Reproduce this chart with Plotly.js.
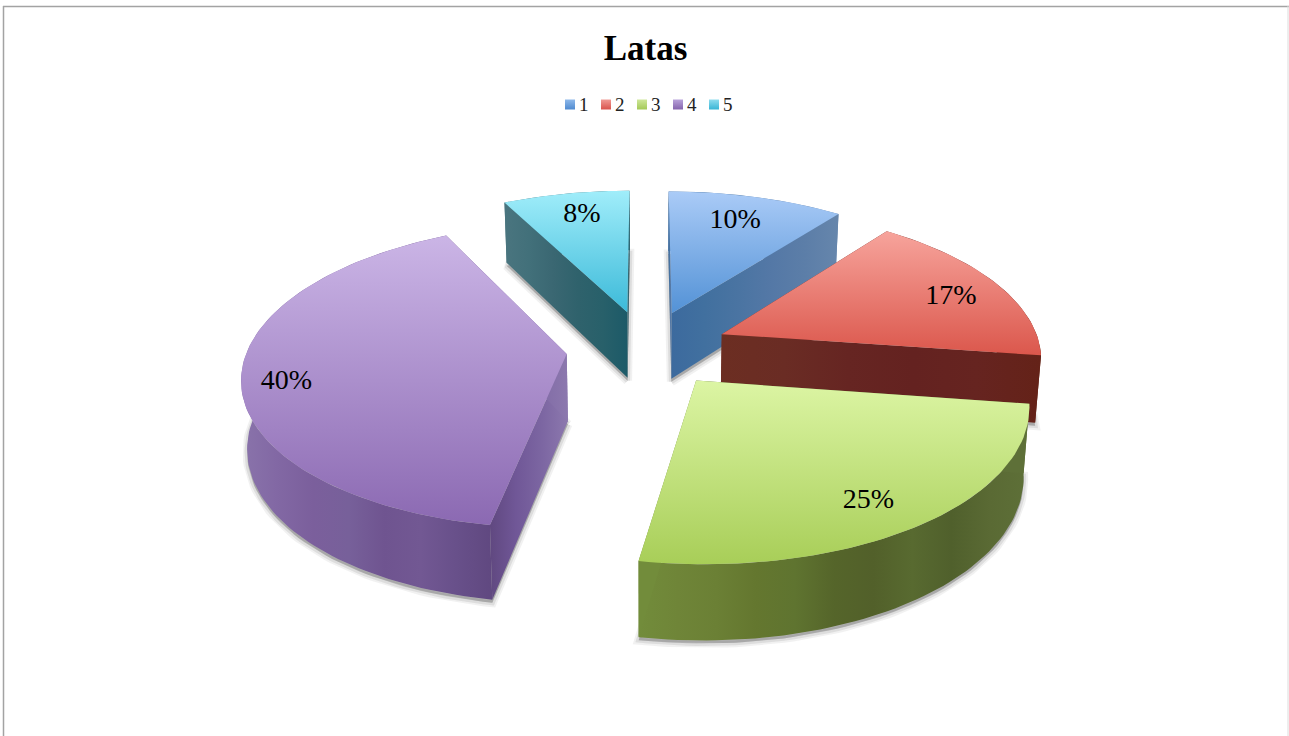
<!DOCTYPE html>
<html><head><meta charset="utf-8">
<script src="https://cdn.plot.ly/plotly-3.0.1.min.js"></script>
<style>html,body{margin:0;padding:0;background:#fff;overflow:hidden}#c{width:1289px;height:736px}</style>
</head><body><div id="c"></div>
<script>
const chartTitle = "Latas";
const categories = ["1","2","3","4","5"];
const shares = [10.4,16.9,25.45,39.75,7.5];
const percentLabels = shares.map(v => Math.round(v) + "%");

// styling
const topStart = ["#aacbf7","#f7a49c","#dcf5a4","#cbb5e6","#a0edfa"];
const topEnd   = ["#5392d6","#db574c","#a8ce58","#8b69b2","#3cbad9"];
const swatchHi = ["#8fb9ea","#f09a94","#cfe79a","#b9a3da","#8fdcee"];
const swatchLo = ["#4f8ad0","#d9534c","#a3c957","#8563ad","#39b5d5"];
const rimColors = [
  ["#3c6a9e","#44709f","#5b7ea8","#6686ac"],
  ["#6c2e22","#662222","#642220","#64220f"],
  ["#728c3b","#6f8538","#6b8035","#64772f","#5f7430","#55652a","#52602a","#586a30","#50602c","#5a6a34","#5e7038"],
  ["#8a74ab","#8268a4","#7b5f9c","#77609a","#6f5490","#725893","#68508a","#604880"],
  ["#4a757f","#3a6772","#2f626c","#1c5a68"]
];
const cutStartEdge = [
  ["#3c6a9e","#41709f","#4a74a2","#5478a6","#5c7ea8","#6686ac"],
  ["#6c2e22","#6a2c24","#662522","#642220","#662420","#642218"],
  ["#5e7038","#5e7038"],
  ["#604880","#705797","#7c66a2","#8c78ae"],
  ["#4a757f","#42707a","#3a6772","#2f626c","#28606a","#1c5a68"]
];
const cutEndEdge = [
  ["#3c6a9e","#41709f","#4a74a2","#5478a6","#5c7ea8","#6686ac"],
  ["#6c2e22","#6a2c24","#662522","#642220","#662420","#642218"],
  ["#728c3b","#728c3b"],
  ["#604880","#705797","#7c66a2","#8c78ae"],
  ["#4a757f","#42707a","#3a6772","#2f626c","#28606a","#1c5a68"]
];
const drawOrder = [4,0,1,3,2];
const labelRadius = [0.774,0.808,0.826,0.865,0.795];
const labelTurn = [-1.1,3,2.3,-3.6,1.2];
const explode = [0.26,0.26,0.26,0.25,0.26];

// projection of the tilted pie
const cx=646, cy=348.5, R=319, B=148, K=0.14, D=67, KD=0.10, shrink=0.985;
function proj(u,v,low){
  const w=1+K*v;
  return [cx+R*u/w*(low?shrink:1), cy-B*v/w+(low?D/(1+KD*v):0)];
}
const total = shares.reduce((a,b)=>a+b,0);
const rad = d => d*Math.PI/180;
let acc=0;
const slices = shares.map((s,i)=>{
  const a0=acc/total*360; acc+=s; const a1=acc/total*360;
  const mid=(a0+a1)/2;
  return {a0,a1,mid,ex:explode[i]*Math.sin(rad(mid)),ey:explode[i]*Math.cos(rad(mid))};
});
function rimPts(sl,low,rev){
  const n=Math.ceil((sl.a1-sl.a0)/1.5), pts=[];
  for(let i=0;i<=n;i++){
    const a=rad(sl.a0+(sl.a1-sl.a0)*i/n);
    pts.push(proj(Math.sin(a)+sl.ex,Math.cos(a)+sl.ey,low));
  }
  return rev?pts.reverse():pts;
}
function apex(sl,low){ return proj(sl.ex,sl.ey,low); }
function scale(cols){ return cols.map((c,i)=>[i/(cols.length-1),c]); }
function poly(pts,extra){
  const x=pts.map(p=>p[0]).concat(pts[0][0]), y=pts.map(p=>p[1]).concat(pts[0][1]);
  return Object.assign({type:"scatter",mode:"lines",x,y,fill:"toself",line:{width:0},hoverinfo:"skip",showlegend:false},extra);
}
function gradPoly(pts,type,cols){
  const vals=pts.map(p=>type==="horizontal"?p[0]:p[1]);
  return poly(pts,{fillcolor:cols[0],fillgradient:{type,colorscale:scale(cols),start:Math.min(...vals),stop:Math.max(...vals)}});
}
const traces=[];
drawOrder.forEach(i=>{
  const sl=slices[i];
  const base=[apex(sl,true)].concat(rimPts(sl,true,false));
  const shifted=base.map(p=>[p[0],p[1]+3]);
  traces.push(poly(shifted,{fillcolor:"rgba(120,120,120,0.3)",line:{width:9,color:"rgba(120,120,120,0.10)"}}));
  traces.push(poly(shifted,{fillcolor:"rgba(120,120,120,0.3)",line:{width:5,color:"rgba(120,120,120,0.16)"}}));
  // outer wall
  traces.push(gradPoly(rimPts(sl,false,false).concat(rimPts(sl,true,true)),"horizontal",rimColors[i]));
  // cut walls
  traces.push(gradPoly([apex(sl,false),rimPts(sl,false,false)[0],rimPts(sl,true,false)[0],apex(sl,true)],"horizontal",cutStartEdge[i]));
  traces.push(gradPoly([apex(sl,false),rimPts(sl,false,true)[0],rimPts(sl,true,true)[0],apex(sl,true)],"horizontal",cutEndEdge[i]));
  // top face
  traces.push(gradPoly([apex(sl,false)].concat(rimPts(sl,false,false)),"vertical",[topStart[i],topEnd[i]]));
});
// value labels
const lx=[],ly=[];
slices.forEach((sl,i)=>{
  const t=rad(sl.mid+labelTurn[i]);
  const p=proj(sl.ex+labelRadius[i]*Math.sin(t),sl.ey+labelRadius[i]*Math.cos(t),false);
  lx.push(p[0]); ly.push(p[1]);
});
traces.push({type:"scatter",mode:"text",x:lx,y:ly,text:percentLabels,textposition:"middle center",
  textfont:{family:"Liberation Serif",size:28,color:"#000"},hoverinfo:"skip",showlegend:false});
// legend row
const legX=categories.map((_,i)=>570+36*i);
traces.push({type:"scatter",mode:"markers",x:legX,y:categories.map(()=>104.5),
  marker:{symbol:"square",size:10,color:swatchHi,gradient:{type:"vertical",color:swatchLo},line:{width:0}},hoverinfo:"skip",showlegend:false});
traces.push({type:"scatter",mode:"text",x:legX.map(v=>v+9),y:categories.map(()=>106.5),text:categories,textposition:"middle right",
  textfont:{family:"Liberation Serif",size:19,color:"#222"},hoverinfo:"skip",showlegend:false});

const layout={
  width:1289,height:736,margin:{l:0,r:0,t:0,b:0},
  paper_bgcolor:"#fff",plot_bgcolor:"#fff",showlegend:false,
  title:{text:"<b>"+chartTitle+"</b>",font:{family:"Liberation Serif",size:35,color:"#000"},x:645.5/1289,xanchor:"center",y:1-48/736,yanchor:"middle"},
  xaxis:{range:[0,1289],visible:false,fixedrange:true},
  yaxis:{range:[736,0],visible:false,fixedrange:true},
  shapes:[
    {type:"line",xref:"paper",yref:"paper",x0:3.5/1289,x1:3.5/1289,y0:0,y1:1-6/736,line:{color:"#a3a3a3",width:1.5}},
    {type:"line",xref:"paper",yref:"paper",x0:3/1289,x1:1,y0:1-6.5/736,y1:1-6.5/736,line:{color:"#a3a3a3",width:1.5}},
    {type:"line",xref:"paper",yref:"paper",x0:1288/1289,x1:1288/1289,y0:0,y1:1-6/736,line:{color:"#dcdcdc",width:1}}
  ]
};
Plotly.newPlot("c",traces,layout,{displayModeBar:false,staticPlot:true});
</script></body></html>
